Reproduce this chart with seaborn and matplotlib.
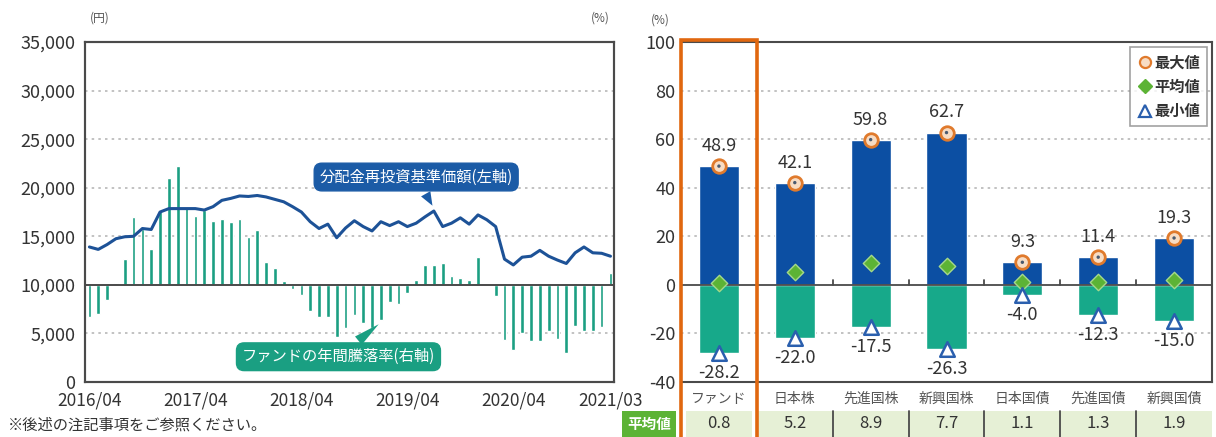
import numpy as np
import matplotlib
matplotlib.use("Agg")
import matplotlib.pyplot as plt
import matplotlib.transforms as mtransforms
from matplotlib.patches import Rectangle
from matplotlib.lines import Line2D
import seaborn as sns

# ---------------- data ----------------
# left chart: monthly, 2016/04 .. 2021/03
month_labels = ["2016/04", "2017/04", "2018/04", "2019/04", "2020/04", "2021/03"]
month_label_idx = [0, 12, 24, 36, 48, 59]

nav = [13900, 13650, 14150, 14750, 14950, 15000, 15800, 15700, 17500, 17850,
       17850, 17850, 17850, 17700, 18050, 18700, 18900, 19150, 19100, 19200,
       19050, 18800, 18550, 18050, 17500, 16500, 15800, 16250, 14850, 15850,
       16600, 16000, 15550, 16500, 16100, 16500, 16000, 16350, 17000, 17600,
       16000, 16350, 16900, 16250, 17200, 16700, 16000, 12650, 12050, 12850,
       12950, 13550, 12950, 12550, 12200, 13300, 13900, 13300, 13250, 12950]

annual_ret = [-13.1, -11.8, -6.4, 0.7, 10.5, 28.1, 23.1, 14.6, 30.8, 43.9,
              48.9, 31.5, 28.5, 30.8, 26.1, 27.0, 25.7, 27.0, 19.7, 22.4,
              9.6, 6.9, 1.4, -1.6, -4.3, -10.7, -13.1, -13.1, -21.5, -17.8,
              -12.4, -15.8, -17.8, -14.5, -7.0, -8.0, -3.4, 2.0, 8.2, 8.0,
              8.8, 3.8, 2.8, 1.8, 11.5, -0.2, -4.7, -22.6, -26.9, -19.9,
              -23.2, -23.0, -18.8, -22.3, -28.2, -16.9, -19.2, -19.2, -17.2, 4.9]

# right chart
categories = ["ファンド", "日本株", "先進国株", "新興国株", "日本国債", "先進国債", "新興国債"]
max_vals = [48.9, 42.1, 59.8, 62.7, 9.3, 11.4, 19.3]
avg_vals = [0.8, 5.2, 8.9, 7.7, 1.1, 1.3, 1.9]
min_vals = [-28.2, -22.0, -17.5, -26.3, -4.0, -12.3, -15.0]

yen_ticks = [0, 5000, 10000, 15000, 20000, 25000, 30000, 35000]
pct_ticks = [-40, -20, 0, 20, 40, 60, 80, 100]

# ---------------- style ----------------
sns.set_style("white")
plt.rcParams["font.family"] = ["Noto Sans CJK JP", "DejaVu Sans"]

C_LINE = "#1d5297"
C_TEAL_L = "#1b9f82"
C_BLUE = "#0c4fa3"
C_TEAL = "#17a98a"
C_GREEN = "#5cb335"
C_ORANGE = "#e0670f"
C_TRI = "#2a5fae"
C_FRAME = "#4a4a4a"
C_TXT = "#333333"

W, H = 1216, 437
fig = plt.figure(figsize=(W / 100, H / 100), dpi=100)
fig.patch.set_facecolor("white")


def fx(px):
    return px / W


def fy(py):
    return 1 - py / H


# ---------------- left chart ----------------
ax_pct = fig.add_axes([fx(85), fy(382), fx(614) - fx(85), (382 - 42) / H])
ax_yen = ax_pct.twinx()

idx = np.arange(len(nav))
sns.barplot(x=idx, y=annual_ret, color=C_TEAL_L, saturation=1, width=0.42,
            ax=ax_pct, zorder=2)
ax_pct.set_ylim(-40, 100)
for g in [-20, 20, 40, 60, 80]:
    ax_pct.axhline(g, color="#b8b8b8", lw=1.2, ls=(0, (1.5, 2.5)), zorder=0)
ax_pct.axhline(0, color=C_FRAME, lw=1.4, zorder=3)

ax_yen.set_zorder(ax_pct.get_zorder() + 1)
ax_yen.patch.set_visible(False)
sns.lineplot(x=idx, y=nav, color=C_LINE, lw=2.2, ax=ax_yen, zorder=4)
ax_yen.set_ylim(0, 35000)
ax_yen.set_xlim(-0.5, 59.4)
ax_pct.set_xlim(-0.5, 59.4)

ax_yen.yaxis.tick_left()
ax_yen.set_yticks(yen_ticks)
ax_yen.set_yticklabels([f"{v:,}" for v in yen_ticks], fontsize=13, color=C_TXT)
ax_yen.tick_params(axis="y", length=0, pad=7)
ax_pct.set_yticks([])
ax_pct.set_ylabel("")
ax_yen.set_ylabel("")

ax_pct.set_xticks(month_label_idx)
ax_pct.set_xticklabels(month_labels, fontsize=12.5, color=C_TXT)
ax_pct.tick_params(axis="x", length=0, pad=6.5)
ax_yen.tick_params(axis="x", length=0)
ax_pct.set_xlabel("")

for a in (ax_pct, ax_yen):
    for s in a.spines.values():
        s.set_color(C_FRAME)
        s.set_linewidth(1.5)

# annotation boxes
ax_yen.annotate("分配金再投資基準価額(左軸)", xy=(39, 17900), xytext=(37.0, 21100),
                ha="center", va="center", fontsize=11, color="white",
                bbox=dict(boxstyle="round,pad=0.35,rounding_size=0.5", fc="#1b5ba6", ec="#1b5ba6"),
                arrowprops=dict(arrowstyle="wedge,tail_width=0.7,shrink_factor=0.5",
                                fc="#1b5ba6", ec="#1b5ba6", lw=0),
                zorder=6)
ax_pct.annotate("ファンドの年間騰落率(右軸)", xy=(33, -15.5), xytext=(28.2, -29.6),
                ha="center", va="center", fontsize=11, color="white",
                bbox=dict(boxstyle="round,pad=0.35,rounding_size=0.5", fc="#1a9f82", ec="#1a9f82"),
                arrowprops=dict(arrowstyle="wedge,tail_width=0.7,shrink_factor=0.5",
                                fc="#1a9f82", ec="#1a9f82", lw=0),
                zorder=6)

fig.text(fx(100), fy(18), "(円)", fontsize=8.5, color="#555555", ha="center", va="center")
fig.text(fx(600), fy(18), "(%)", fontsize=8.5, color="#555555", ha="center", va="center")
fig.text(fx(8), fy(425), "※後述の注記事項をご参照ください。", fontsize=11, color=C_TXT,
         ha="left", va="center")

# ---------------- right chart ----------------
ax2 = fig.add_axes([fx(681), fy(382), fx(1212) - fx(681), (382 - 42) / H])
pos = np.arange(len(categories))
sns.barplot(x=categories, y=max_vals, color=C_BLUE, saturation=1, width=0.53, ax=ax2, zorder=2)
sns.barplot(x=categories, y=min_vals, color=C_TEAL, saturation=1, width=0.53, ax=ax2, zorder=2)
ax2.set_ylim(-40, 100)
ax2.set_xlim(-0.5, 6.5)
for g in [-20, 20, 40, 60, 80]:
    ax2.axhline(g, color="#b8b8b8", lw=1.2, ls=(0, (1.5, 2.5)), zorder=0)
ax2.axhline(0, color=C_FRAME, lw=1.3, zorder=3)
for b in np.arange(1.5, len(categories) - 1, 1.0):
    ax2.plot([b, b], [0, 2.2], color=C_FRAME, lw=1.3, zorder=3)

sns.scatterplot(x=pos, y=max_vals, marker="o", s=95, color="#f7dcc4",
                edgecolor="#e07a2c", linewidth=2, ax=ax2, zorder=5, legend=False)
sns.scatterplot(x=pos, y=max_vals, marker="o", s=6, color="#4a5a70",
                edgecolor="none", ax=ax2, zorder=6, legend=False)
sns.scatterplot(x=pos, y=avg_vals, marker="D", s=70, color=C_GREEN,
                edgecolor="#a6d98a", linewidth=1, ax=ax2, zorder=5, legend=False)
sns.scatterplot(x=pos, y=min_vals, marker="^", s=110, color="white",
                edgecolor=C_TRI, linewidth=1.8, ax=ax2, zorder=5, legend=False)

for p, v in zip(pos, max_vals):
    ax2.annotate(f"{v:.1f}", (p, v), xytext=(0, 8), textcoords="offset points",
                 ha="center", va="bottom", fontsize=13, color=C_TXT, zorder=7)
for p, v in zip(pos, min_vals):
    ax2.annotate(f"{v:.1f}", (p, v), xytext=(0, -8), textcoords="offset points",
                 ha="center", va="top", fontsize=13, color=C_TXT, zorder=7)

ax2.set_yticks(pct_ticks)
ax2.set_yticklabels([str(v) for v in pct_ticks], fontsize=13, color=C_TXT)
ax2.tick_params(axis="y", length=0, pad=4)
ax2.set_xticks(pos)
ax2.set_xticklabels(categories, fontsize=10, color="#555555")
ax2.tick_params(axis="x", length=0, pad=7)
ax2.set_xlabel("")
ax2.set_ylabel("")
for name, s in ax2.spines.items():
    s.set_color(C_FRAME)
    s.set_linewidth(1.5)
ax2.spines["left"].set_visible(False)

fig.text(fx(660), fy(20), "(%)", fontsize=8.5, color="#555555", ha="center", va="center")

# legend
handles = [
    Line2D([], [], ls="none", marker="o", ms=8, mfc="#f7dcc4", mec="#e07a2c", mew=1.6, label="最大値"),
    Line2D([], [], ls="none", marker="D", ms=7, mfc=C_GREEN, mec=C_GREEN, label="平均値"),
    Line2D([], [], ls="none", marker="^", ms=8, mfc="white", mec=C_TRI, mew=1.6, label="最小値"),
]
leg = ax2.legend(handles=handles, loc="upper right", fontsize=11, frameon=True,
                 handletextpad=0.1, handlelength=1.0, borderpad=0.45, labelspacing=0.55,
                 borderaxespad=0.35, fancybox=False)
leg.get_frame().set_edgecolor("#8a8a8a")
leg.get_frame().set_linewidth(1.2)
for t in leg.get_texts():
    t.set_fontweight("bold")
    t.set_color("#333333")

# table row of averages
tr = mtransforms.blended_transform_factory(ax2.transData, fig.transFigure)
y0, y1 = fy(437), fy(411)
for p, v in zip(pos, avg_vals):
    pad = 0.06 if p == 0 else 0.0
    r = Rectangle((p - 0.5 + pad, y0), 1 - 2 * pad, y1 - y0, transform=tr,
                  fc="#e6f0d6", ec="none", clip_on=False, zorder=1)
    fig.add_artist(r)
    fig.text(p, (y0 + y1) / 2, f"{v:.1f}", transform=tr, ha="center", va="center",
             fontsize=12, color=C_TXT)
for b in np.arange(1.5, len(categories) - 1, 1.0):
    fig.add_artist(Line2D([b, b], [y0, y1], transform=tr, color=C_FRAME, lw=1.3))
fig.add_artist(Rectangle((fx(622), y0), fx(676) - fx(622), y1 - y0, transform=fig.transFigure,
                         fc=C_GREEN, ec="none"))
fig.text(fx(649), (y0 + y1) / 2, "平均値", fontsize=10.5, color="white", ha="center",
         va="center", fontweight="bold")

# orange frame around the fund column
fig.add_artist(Rectangle((-0.5, fy(438)), 1.0, fy(40) - fy(438), transform=tr,
                         fc="none", ec=C_ORANGE, lw=2.6, clip_on=False, zorder=10))

fig.savefig("out.png", dpi=100, facecolor="white")
